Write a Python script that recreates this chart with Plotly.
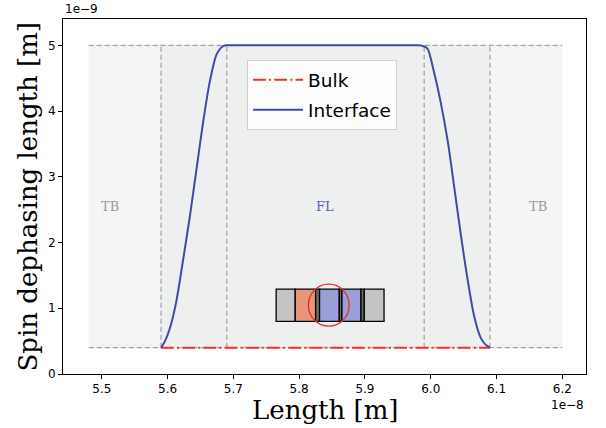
import plotly.graph_objects as go

# ---- data (x in units of 1e-8 m, y in units of 1e-9 m) ----
x_interface = [5.590, 5.596, 5.603, 5.613, 5.623, 5.634, 5.644, 5.654, 5.664, 5.674, 5.680, 5.685, 5.690,
               5.700, 5.720, 5.850, 5.960, 5.980, 5.988, 5.995, 6.005, 6.015, 6.026, 6.036, 6.046,
               6.056, 6.066, 6.076, 6.083, 6.090]
y_interface = [0.40, 0.50, 0.68, 1.09, 1.70, 2.41, 3.12, 3.83, 4.44, 4.85, 4.95, 4.99, 5.00,
               5.00, 5.00, 5.00, 5.00, 5.00, 4.99, 4.95, 4.59, 4.14, 3.53, 2.82, 2.10,
               1.44, 0.88, 0.55, 0.45, 0.40]
x_bulk = [5.59, 6.09]
y_bulk = [0.40, 0.40]

region_edges = [5.48, 5.59, 5.69, 5.99, 6.09, 6.20]   # TB | ramp | FL | ramp | TB
level_low, level_high = 0.40, 5.00

region_labels = ["TB", "FL", "TB"]
region_label_x = [5.513, 5.84, 6.163]
region_label_y = 2.55

x_tickvals = [5.5, 5.6, 5.7, 5.8, 5.9, 6.0, 6.1, 6.2]
x_ticktext = ["5.5", "5.6", "5.7", "5.8", "5.9", "6.0", "6.1", "6.2"]
y_tickvals = [0, 1, 2, 3, 4, 5]
y_ticktext = ["0", "1", "2", "3", "4", "5"]

# inset schematic (layer stack) in data coordinates
stack_edges = [5.765, 5.794, 5.825, 5.831, 5.861, 5.865, 5.894, 5.899, 5.929]
stack_colors = ["#c4c4c4", "#e8957a", "#6e6e6e", "#9a9fd8", "#6e6e6e", "#9a9fd8", "#6e6e6e", "#c4c4c4"]
stack_y = [0.80, 1.29]
circle_center = (5.845, 1.047)
circle_radius = (0.031, 0.32)

BLUE = "#3f4aa8"
RED = "#e5362b"
GRAYLINE = "#a0a0a0"

fig = go.Figure()

shapes = []
shapes.append(dict(type="rect", xref="x", yref="y", x0=region_edges[0], x1=region_edges[-1],
                   y0=level_low, y1=level_high, fillcolor="#f5f5f5", line_width=0, layer="below"))
shapes.append(dict(type="rect", xref="x", yref="y", x0=region_edges[1], x1=region_edges[4],
                   y0=level_low, y1=level_high, fillcolor="#edf0ef", line_width=0, layer="below"))
for xe in region_edges[1:5]:
    shapes.append(dict(type="line", xref="x", yref="y", x0=xe, x1=xe, y0=level_low, y1=level_high,
                       line=dict(color=GRAYLINE, width=1.2, dash="5px,3px"), layer="below"))
for ye in (level_low, level_high):
    shapes.append(dict(type="line", xref="x", yref="y", x0=region_edges[0], x1=region_edges[-1],
                       y0=ye, y1=ye, line=dict(color=GRAYLINE, width=1.2, dash="5px,3px"), layer="below"))
for i, c in enumerate(stack_colors):
    shapes.append(dict(type="rect", xref="x", yref="y", x0=stack_edges[i], x1=stack_edges[i + 1],
                       y0=stack_y[0], y1=stack_y[1], fillcolor=c, line=dict(color="black", width=1.3),
                       layer="above"))
shapes.append(dict(type="circle", xref="x", yref="y",
                   x0=circle_center[0] - circle_radius[0], x1=circle_center[0] + circle_radius[0],
                   y0=circle_center[1] - circle_radius[1], y1=circle_center[1] + circle_radius[1],
                   line=dict(color="#e0302a", width=1.3), layer="above"))

fig.add_trace(go.Scatter(x=x_bulk, y=y_bulk, mode="lines", name="Bulk", legendgroup="a",
                         line=dict(color=RED, width=2, dash="12.8px,3.2px,2px,3.2px")))
fig.add_trace(go.Scatter(x=x_interface, y=y_interface, mode="lines", name="Interface", legendgroup="b",
                         line=dict(color=BLUE, width=2, shape="spline", smoothing=0.8)))

annotations = []
label_colors = ["#999999", "#5a66b0", "#999999"]
for t, xv, c in zip(region_labels, region_label_x, label_colors):
    annotations.append(dict(x=xv, y=region_label_y, xref="x", yref="y", text=t, showarrow=False,
                            font=dict(family="DejaVu Serif", size=13, color=c)))
annotations.append(dict(x=0, y=1, xref="paper", yref="paper", text="1e\u22129", showarrow=False,
                        xanchor="left", yanchor="bottom", yshift=1,
                        font=dict(family="DejaVu Sans", size=12, color="black")))
annotations.append(dict(x=1, y=0, xref="paper", yref="paper", text="1e\u22128", showarrow=False,
                        xanchor="right", yanchor="top", yshift=-22,
                        font=dict(family="DejaVu Sans", size=12, color="black")))
annotations.append(dict(x=0.5, y=0, xref="paper", yref="paper", text="Length [m]", showarrow=False,
                        xanchor="center", yanchor="middle", yshift=-36,
                        font=dict(family="DejaVu Serif", size=26, color="black")))
annotations.append(dict(x=0, y=0.5, xref="paper", yref="paper", text="Spin dephasing length [m]",
                        showarrow=False, textangle=-90, xanchor="center", yanchor="middle", xshift=-36,
                        font=dict(family="DejaVu Serif", size=26, color="black")))

axis_common = dict(showline=True, mirror=True, linecolor="black", linewidth=1, showgrid=False,
                   zeroline=False, ticks="outside", ticklen=4, tickwidth=1, tickcolor="black",
                   tickfont=dict(family="DejaVu Sans", size=12, color="black"))

fig.update_layout(
    width=606, height=428, autosize=False,
    margin=dict(l=63, r=20, t=19, b=54),
    plot_bgcolor="white", paper_bgcolor="white",
    shapes=shapes, annotations=annotations,
    xaxis=dict(range=[5.441, 6.236], tickmode="array", tickvals=x_tickvals, ticktext=x_ticktext,
               **axis_common),
    yaxis=dict(range=[0, 5.4], tickmode="array", tickvals=y_tickvals, ticktext=y_ticktext,
               **axis_common),
    legend=dict(x=0.352, y=0.884, xanchor="left", yanchor="top", itemwidth=50, tracegroupgap=3,
                bgcolor="rgba(255,255,255,0.85)", bordercolor="#d0d0d0", borderwidth=1,
                font=dict(family="DejaVu Sans", size=18.5, color="black")),
    showlegend=True,
)

fig.write_html("out.html", config={"displayModeBar": False},
               post_script="document.body.style.margin='0';document.body.style.overflow='hidden';")
